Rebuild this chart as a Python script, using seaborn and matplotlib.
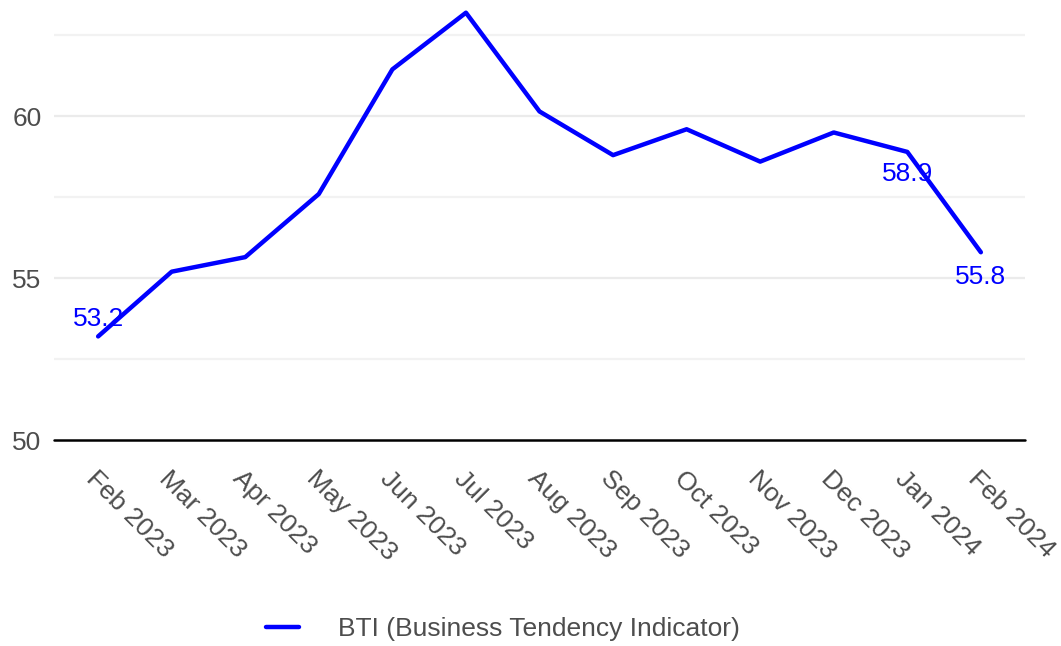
import matplotlib
matplotlib.use("Agg")
import matplotlib.pyplot as plt
import pandas as pd
import seaborn as sns

months = ["Feb 2023", "Mar 2023", "Apr 2023", "May 2023", "Jun 2023", "Jul 2023", "Aug 2023",
          "Sep 2023", "Oct 2023", "Nov 2023", "Dec 2023", "Jan 2024", "Feb 2024"]
bti = [53.2, 55.2, 55.65, 57.6, 61.45, 63.2, 60.15, 58.8, 59.6, 58.6, 59.5, 58.9, 55.8]
series_name = "BTI (Business Tendency Indicator)"
labelled = {0: (0, 17), 11: (0, -22), 12: (0, -25)}

sns.set_style("white")
plt.rcParams["font.family"] = ["Liberation Sans", "DejaVu Sans"]

df = pd.DataFrame({"month": months, "value": bti, "idx": range(len(months))})

fig = plt.figure(figsize=(10.61, 6.46), dpi=100)
ax = fig.add_axes([54 / 1061, 1 - 440 / 646, (1025 - 54) / 1061, 437 / 646])

for y, c in [(52.5, "#f2f2f2"), (57.5, "#f2f2f2"), (62.5, "#f2f2f2"), (55, "#ebebeb"), (60, "#ebebeb")]:
    ax.axhline(y, color=c, lw=1.6, zorder=0)
ax.axhline(50, color="black", lw=1.8, zorder=1, clip_on=False)

sns.lineplot(data=df, x="idx", y="value", ax=ax, color="#0000ff", lw=3.2, label=series_name, legend=False)

for i, (dx, dy) in labelled.items():
    ax.annotate(f"{bti[i]:.1f}", (i, bti[i]), xytext=(dx, dy), textcoords="offset pixels",
                ha="center", va="center", color="#0000ff", fontsize=19)

ax.set_xlim(-0.6, len(months) - 0.4)
ax.set_ylim(50, 63.5)
ax.set_yticks([50, 55, 60])
ax.set_xticks(range(len(months)))
ax.set_xticklabels(months, rotation=-45, ha="left", va="top", rotation_mode="anchor")
ax.tick_params(axis="both", length=0, labelsize=19, labelcolor="#4d4d4d")
ax.tick_params(axis="y", pad=9)
ax.tick_params(axis="x", pad=19)
ax.set_xlabel("")
ax.set_ylabel("")
sns.despine(ax=ax, left=True, bottom=True, top=True, right=True)

handles, labels = ax.get_legend_handles_labels()
fig.legend(handles, labels, loc="center", bbox_to_anchor=(503 / 1061, 1 - 629 / 646), frameon=False,
           fontsize=19, labelcolor="#4d4d4d", handlelength=1.25, handletextpad=1.5)

fig.savefig("out.png", dpi=100, facecolor="white")
